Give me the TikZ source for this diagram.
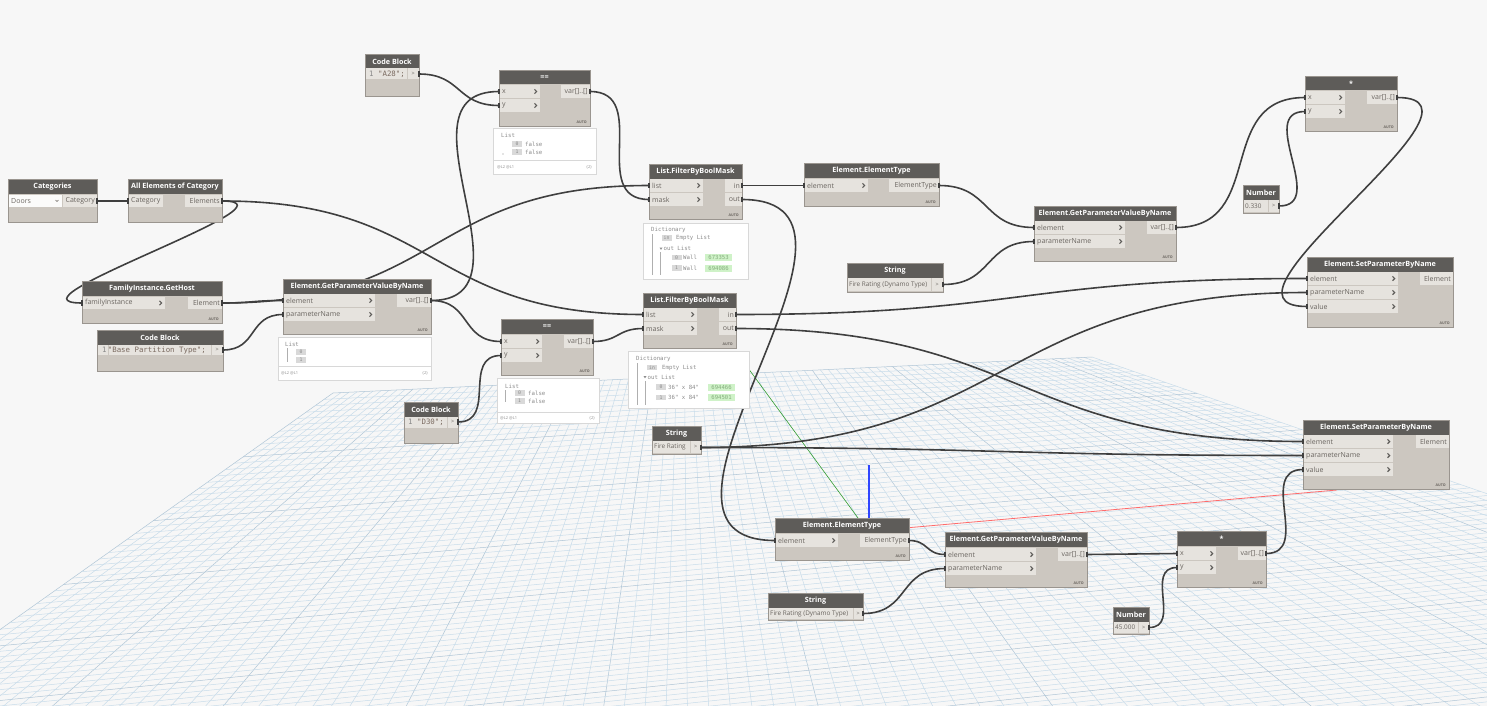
\documentclass[tikz,border=0pt]{standalone}
\usepackage{fontspec}
\setmainfont{Open Sans}
\newfontfamily\monof{DejaVu Sans Mono}
\usetikzlibrary{calc,fit}
\pgfdeclarelayer{bg}\pgfdeclarelayer{wires}\pgfdeclarelayer{fg}
\pgfsetlayers{bg,wires,main,fg}
\definecolor{bgc}{HTML}{F7F7F7}
\definecolor{hdr}{HTML}{5E5C59}
\definecolor{bodyc}{HTML}{CCC7C0}
\definecolor{rowc}{HTML}{E6E3DE}
\definecolor{linec}{HTML}{9A958F}
\definecolor{labc}{HTML}{6A6560}
\definecolor{wirec}{HTML}{3F3F3F}
\definecolor{gridc}{HTML}{C8DCEA}
\definecolor{gridd}{HTML}{AFC5D6}
\definecolor{prevline}{HTML}{D8D8D8}
\definecolor{ptxt}{HTML}{8C8C8C}
\definecolor{chipc}{HTML}{D9D9D9}
\definecolor{greenc}{HTML}{CFF2C8}
\definecolor{greent}{HTML}{86AE7E}
\definecolor{codec}{HTML}{7A6A60}
\definecolor{numc}{HTML}{8A8A8A}
\definecolor{axg}{HTML}{2E9A2E}
\definecolor{axr}{HTML}{FF6B6B}
\definecolor{axb}{HTML}{2F45FF}
\tikzset{
 dtitle/.style={text=white, font=\bfseries\fontsize{7.2}{8}\selectfont, inner sep=0pt},
 plab/.style={text=labc, font=\fontsize{7}{8}\selectfont, inner sep=0pt},
 fld/.style={text=labc, font=\fontsize{6.4}{7}\selectfont, inner sep=0pt},
 autot/.style={text=labc, font=\bfseries\fontsize{3.6}{4}\selectfont, inner sep=0pt},
 codet/.style={text=codec, font=\monof\fontsize{7.4}{8}\selectfont, inner sep=0pt},
 wire/.style={draw=wirec, line width=1.6pt},
 pin/.style={fill=wirec},
 chev/.style={draw=hdr, line width=1.1pt},
 dbody/.style={fill=bodyc, draw=linec, line width=0.6pt, inner sep=0pt},
 prevbox/.style={fill=white, draw=prevline, line width=0.8pt, inner sep=0pt},
 ptx/.style={text=ptxt, font=\monof\fontsize{5.7}{6}\selectfont, inner sep=0pt},
 chip/.style={fill=chipc, text=ptxt, font=\monof\fontsize{4.8}{5}\selectfont, inner sep=0pt, minimum width=10pt, minimum height=5.5pt},
 gchip/.style={fill=greenc, text=greent, font=\monof\fontsize{5.6}{6}\selectfont, inner sep=0pt, minimum width=27pt, minimum height=7pt},
 ftx/.style={text=ptxt, font=\fontsize{4}{5}\selectfont, inner sep=0pt},
 treel/.style={draw=ptxt!70, line width=0.5pt},
 gridl/.style={draw=gridc, line width=0.5pt},
 gridm/.style={draw=gridd, line width=0.5pt},
}
\newcommand{\dnode}[6]{%
  \node[dbody, fit={(#2,#3)(#4,#5)}] (#1) {};
  \fill[hdr] (#2,#3) rectangle (#4,{#3+14.5});
  \node[dtitle] (#1-t) at ({(#2+#4)/2},{#3+7.5}) {#6};
  \draw[linec, line width=0.6pt] (#2,#3) rectangle (#4,#5);}
\newcommand{\inrow}[5]{%
  \fill[rowc] ({#1+0.5},#2) rectangle (#3,#4);
  \node[plab, anchor=west] at ({#1+3},{(#2+#4)/2}) {#5};
  \draw[chev] ({#3-5.5},{(#2+#4)/2-2.2}) -- ({#3-3.3},{(#2+#4)/2}) -- ({#3-5.5},{(#2+#4)/2+2.2});}
\newcommand{\inrowb}[5]{%
  \fill[rowc] ({#1+0.5},#2) rectangle (#3,#4);
  \node[plab, anchor=west] at ({#1+3},{(#2+#4)/2}) {#5};}
\newcommand{\outrow}[5]{%
  \fill[rowc] (#1,#2) rectangle ({#3-0.5},#4);
  \node[plab, anchor=east] at ({#3-2},{(#2+#4)/2}) {#5};}
\newcommand{\gtport}[4]{%
  \fill[rowc] (#1,#2) rectangle (#3,#4);
  \node[plab, font=\fontsize{5.5}{6}\selectfont] at ({(#1+#3)/2},{(#2+#4)/2}) {>};}
\newcommand{\autol}[2]{\node[autot, anchor=south east] at (#1,#2) {AUTO};}
\newcommand{\dwire}[2]{%
  \begin{pgfonlayer}{wires}
  \draw[wire] let \p1=($(#2)-(#1)$), \n1={max(0.5*veclen(\x1,\y1),15)} in
     (#1) .. controls +(\n1,0) and +(-\n1,0) .. (#2);
  \end{pgfonlayer}
  \begin{pgfonlayer}{fg}
  \fill[pin] ($(#1)+(-1.2,-2.6)$) rectangle ($(#1)+(1.2,2.6)$);
  \fill[pin] ($(#2)+(-1.2,-2.6)$) rectangle ($(#2)+(1.2,2.6)$);
  \end{pgfonlayer}}
\begin{document}
\begin{tikzpicture}[x=1pt,y=-1pt]
\useasboundingbox (0,0) rectangle (1487,706);
% ---------- background and perspective grid
\begin{pgfonlayer}{bg}
\fill[bgc] (0,0) rectangle (1487,706);
\begin{scope}
\clip (0,0) rectangle (1487,706);
\foreach \i in {0,...,95}{
  \pgfmathsetmacro\u{\i/95}
  \pgfmathsetmacro\ax{333+\u*(1092-333)}\pgfmathsetmacro\ay{393+\u*(357-393)}
  \pgfmathsetmacro\bx{-700+\u*(2300+700)}\pgfmathsetmacro\by{1127+\u*(775-1127)}
  \pgfmathtruncatemacro\m{mod(\i,10)}
  \ifnum\m=0 \draw[gridm] (\ax,\ay) -- (\bx,\by); \else \draw[gridl] (\ax,\ay) -- (\bx,\by); \fi
}
\foreach \i in {0,...,115}{
  \pgfmathsetmacro\v{\i/115}
  \pgfmathsetmacro\ax{333+\v*(-700-333)}\pgfmathsetmacro\ay{393+\v*(1127-393)}
  \pgfmathsetmacro\bx{1092+\v*(2300-1092)}\pgfmathsetmacro\by{357+\v*(775-357)}
  \pgfmathtruncatemacro\m{mod(\i,10)}
  \ifnum\m=0 \draw[gridm] (\ax,\ay) -- (\bx,\by); \else \draw[gridl] (\ax,\ay) -- (\bx,\by); \fi
}
\draw[axg, line width=0.6pt] (748,368) -- (858,518);
\draw[axr, line width=0.8pt] (905,528) -- (1337,490);
\fill[axb] (868.4,465) rectangle (869.8,518);
\end{scope}
\end{pgfonlayer}
% ---------- preview boxes
\node[prevbox, fit={(278,337)(431,380)}] (pv-gp1) {};
\draw[prevline] (278,366) -- (431,366);
\node[ptx, anchor=west] at (285,344) {List};
\draw[treel] (287,348) -- (287,362);
\node[chip] at (301,352) {0};
\node[chip] at (301,360) {1};
\node[ftx, anchor=west] at (281,373) {@L2 @L1};
\node[ftx, anchor=east] at (428,373) {\{2\}};

\node[prevbox, fit={(493,128)(596,174)}] (pv-eq1) {};
\draw[prevline] (493,160) -- (596,160);
\node[ptx, anchor=west] at (501,135) {List};
\node[chip] at (517,144) {0}; \node[ptx, anchor=west] at (525,144) {false};
\node[chip] at (517,152) {1}; \node[ptx, anchor=west] at (525,152) {false};
\fill[ptxt] (503,154) circle (0.6);
\node[ftx, anchor=west] at (497,167) {@L2 @L1};
\node[ftx, anchor=east] at (592,167) {\{2\}};

\node[prevbox, fit={(497,378)(599,423)}] (pv-eq2) {};
\draw[prevline] (497,412) -- (599,412);
\node[ptx, anchor=west] at (505,386) {List};
\draw[treel] (505,390) -- (505,402);
\node[chip] at (519.5,393) {0}; \node[ptx, anchor=west] at (528,393) {false};
\node[chip] at (519.5,401) {1}; \node[ptx, anchor=west] at (528,401) {false};
\node[ftx, anchor=west] at (500,418) {@L2 @L1};
\node[ftx, anchor=east] at (595,418) {\{2\}};

\node[prevbox, fit={(643,223)(748,279)}] (pv-f1) {};
\node[ptx, anchor=west] at (651,230) {Dictionary};
\draw[treel] (652,234) -- (652,275);
\node[chip] at (666.5,238) {in}; \node[ptx, anchor=west] at (676,238) {Empty List};
\fill[ptxt] (659.5,247.5) -- (662.5,247.5) -- (661,249.8) -- cycle;
\node[ptx, anchor=west] at (663.5,248.5) {out List};
\draw[treel] (660,252) -- (660,275);
\node[chip] at (676.5,257.5) {0}; \node[ptx, anchor=west] at (683,257.5) {Wall}; \node[gchip] at (718.5,257.5) {673353};
\node[chip] at (676.5,268) {1}; \node[ptx, anchor=west] at (683,268) {Wall}; \node[gchip] at (718.5,268) {694086};

\node[prevbox, fit={(628,351)(749,408)}] (pv-f2) {};
\node[ptx, anchor=west] at (636,359) {Dictionary};
\draw[treel] (637,363) -- (637,405);
\node[chip] at (652,367.5) {in}; \node[ptx, anchor=west] at (662,367.5) {Empty List};
\fill[ptxt] (643.5,376) -- (646.5,376) -- (645,378.3) -- cycle;
\node[ptx, anchor=west] at (647.5,377) {out List};
\draw[treel] (645,381) -- (645,405);
\node[chip] at (661,387) {0}; \node[ptx, anchor=west] at (668,387) {36" x 84"}; \node[gchip] at (721.5,387) {694466};
\node[chip] at (661,397.5) {1}; \node[ptx, anchor=west] at (668,397.5) {36" x 84"}; \node[gchip] at (721.5,397.5) {694501};
% ---------- nodes
\dnode{cat}{8}{179}{97}{222}{Categories}
\fill[white!85!rowc] (9,195) rectangle (62,207);
\node[plab, anchor=west] (cat-v) at (11,201) {Doors};
\draw[labc, line width=0.4pt] (55.5,200) -- (57,201.5) -- (58.5,200);
\outrow{63}{195}{97}{207}{Category}
\coordinate (cat-out) at (97,201);

\dnode{ae}{128}{179}{222}{222}{All Elements of Category}
\inrowb{128}{195}{163}{207}{Category}
\outrow{185}{195}{222}{207}{Elements}
\coordinate (ae-in) at (128,201); \coordinate (ae-out) at (222,201);

\dnode{gh}{82}{281}{222}{323}{FamilyInstance.GetHost}
\inrow{82}{297}{165}{309}{familyInstance}
\outrow{188}{297}{222}{309}{Element}
\autol{219}{321}
\coordinate (gh-in) at (82,303); \coordinate (gh-out) at (222,303);

\dnode{cb1}{97}{330}{223}{371}{Code Block}
\fill[rowc] (98,345) rectangle (211,355);
\draw[bodyc, line width=0.6pt] (108,345) -- (108,355);
\node[codet, anchor=west] (cb1-c) at (102,350) {\textcolor{numc}{1}\hspace{1.2pt}"Base Partition Type";};
\gtport{212}{345}{222.5}{355}
\coordinate (cb1-out) at (223,350);

\dnode{gp1}{283}{279}{431}{334}{Element.GetParameterValueByName}
\inrow{283}{294}{375}{307}{element}
\inrow{283}{308}{375}{321}{parameterName}
\outrow{397}{294}{431}{307}{var[]..[]}
\autol{428}{332}
\coordinate (gp1-el) at (283,300.5); \coordinate (gp1-pn) at (283,314.5); \coordinate (gp1-out) at (431,300.5);

\dnode{cba}{365}{54}{419}{96}{Code Block}
\fill[rowc] (366,68.5) rectangle (407,79);
\node[codet, anchor=west] (cba-c) at (369,74) {\textcolor{numc}{1} "A28";};
\gtport{408}{68.5}{418.5}{79}
\coordinate (cba-out) at (419,74);

\dnode{eq1}{499}{70}{590}{126}{==}
\inrow{499}{85}{540}{98}{x}
\inrow{499}{99}{540}{112}{y}
\outrow{561}{85}{590}{98}{var[]..[]}
\autol{587}{124}
\coordinate (eq1-x) at (499,91.5); \coordinate (eq1-y) at (499,105.5); \coordinate (eq1-out) at (590,91.5);

\dnode{f1}{649}{164}{742}{219}{List.FilterByBoolMask}
\inrow{649}{179}{703}{192}{list}
\inrow{649}{193}{703}{206}{mask}
\outrow{725}{179}{742}{192}{in}
\outrow{725}{193}{742}{206}{out}
\autol{739}{217}
\coordinate (f1-list) at (649,185.5); \coordinate (f1-mask) at (649,199.5);
\coordinate (f1-in) at (742,185.5); \coordinate (f1-out) at (742,199.5);

\dnode{f2}{643}{293}{736}{348}{List.FilterByBoolMask}
\inrow{643}{308}{697}{321}{list}
\inrow{643}{322}{697}{335}{mask}
\outrow{719}{308}{736}{321}{in}
\outrow{719}{322}{736}{335}{out}
\autol{733}{346}
\coordinate (f2-list) at (643,314.5); \coordinate (f2-mask) at (643,328.5);
\coordinate (f2-in) at (736,314.5); \coordinate (f2-out) at (736,328.5);

\dnode{et1}{804}{163}{939}{206}{Element.ElementType}
\inrow{804}{179}{868}{192}{element}
\outrow{889}{179}{939}{192}{ElementType}
\autol{936}{204}
\coordinate (et1-in) at (804,185.5); \coordinate (et1-out) at (939,185.5);

\dnode{s1}{847}{263}{943}{292}{String}
\fill[rowc] (848,278) rectangle (931,291);
\node[fld, anchor=west] (s1-f) at (849,284.5) {Fire Rating (Dynamo Type)};
\gtport{932}{278}{942.5}{291}
\coordinate (s1-out) at (943,284.5);

\dnode{gp2}{1034}{206}{1176}{261}{Element.GetParameterValueByName}
\inrow{1034}{221}{1125}{234}{element}
\inrow{1034}{235}{1125}{248}{parameterName}
\outrow{1147}{221}{1176}{234}{var[]..[]}
\autol{1173}{259}
\coordinate (gp2-el) at (1034,227.5); \coordinate (gp2-pn) at (1034,241.5); \coordinate (gp2-out) at (1176,227.5);

\dnode{m1}{1305}{76}{1397}{131}{*}
\inrow{1305}{91}{1345}{104}{x}
\inrow{1305}{105}{1345}{118}{y}
\outrow{1367}{91}{1397}{104}{var[]..[]}
\autol{1394}{129}
\coordinate (m1-x) at (1305,97.5); \coordinate (m1-y) at (1305,111.5); \coordinate (m1-out) at (1397,97.5);

\dnode{n1}{1243}{185}{1279}{213}{Number}
\fill[rowc] (1244,200) rectangle (1268,212);
\node[fld, anchor=west] (n1-f) at (1245,206) {0.330};
\gtport{1269}{200}{1278.5}{212}
\coordinate (n1-out) at (1279,206);

\dnode{sp1}{1307}{257}{1453}{327}{Element.SetParameterByName}
\inrow{1307}{272}{1398}{285}{element}
\inrow{1307}{286}{1398}{299}{parameterName}
\inrow{1307}{300}{1398}{313}{value}
\outrow{1420}{272}{1453}{285}{Element}
\autol{1450}{325}
\coordinate (sp1-el) at (1307,278.5); \coordinate (sp1-pn) at (1307,292.5); \coordinate (sp1-val) at (1307,306.5);

\dnode{cbd}{404}{402}{458}{443}{Code Block}
\fill[rowc] (405,417) rectangle (447,427.5);
\node[codet, anchor=west] (cbd-c) at (408,422) {\textcolor{numc}{1} "D30";};
\gtport{448}{417}{457.5}{427.5}
\coordinate (cbd-out) at (458,422);

\dnode{eq2}{501}{319}{593}{375}{==}
\inrow{501}{335}{542}{348}{x}
\inrow{501}{349}{542}{362}{y}
\outrow{564}{335}{593}{348}{var[]..[]}
\autol{590}{373}
\coordinate (eq2-x) at (501,341.5); \coordinate (eq2-y) at (501,355.5); \coordinate (eq2-out) at (593,341.5);

\dnode{s2}{652}{426}{701}{454}{String}
\fill[rowc] (653,441) rectangle (690,453);
\node[fld, anchor=west] (s2-f) at (654,447) {Fire Rating};
\gtport{691}{441}{700.5}{453}
\coordinate (s2-out) at (701,447.5);

\dnode{sp2}{1303}{420}{1449}{489}{Element.SetParameterByName}
\inrow{1303}{435}{1393}{448}{element}
\inrow{1303}{449}{1393}{462}{parameterName}
\inrow{1303}{463}{1393}{476}{value}
\outrow{1416}{435}{1449}{448}{Element}
\autol{1446}{487}
\coordinate (sp2-el) at (1303,441.5); \coordinate (sp2-pn) at (1303,455.5); \coordinate (sp2-val) at (1303,469.5);

\dnode{m2}{1177}{531}{1266}{587}{*}
\inrow{1177}{547}{1216}{560}{x}
\inrow{1177}{561}{1216}{574}{y}
\outrow{1238}{547}{1266}{560}{var[]..[]}
\autol{1263}{585}
\coordinate (m2-x) at (1177,553.5); \coordinate (m2-y) at (1177,567.5); \coordinate (m2-out) at (1266,553.5);

\dnode{n2}{1113}{607}{1149}{634}{Number}
\fill[rowc] (1114,622) rectangle (1138,633);
\node[fld, anchor=west] (n2-f) at (1115,627.5) {45.000};
\gtport{1139}{622}{1148.5}{633}
\coordinate (n2-out) at (1149,627.5);

\dnode{et2}{775}{518}{909}{560}{Element.ElementType}
\inrow{775}{534}{838}{547}{element}
\outrow{860}{534}{909}{547}{ElementType}
\autol{906}{558}
\coordinate (et2-in) at (775,540.5); \coordinate (et2-out) at (909,540.5);

\dnode{gp3}{945}{532}{1087}{587}{Element.GetParameterValueByName}
\inrow{945}{548}{1036}{561}{element}
\inrow{945}{562}{1036}{575}{parameterName}
\outrow{1058}{548}{1087}{561}{var[]..[]}
\autol{1084}{585}
\coordinate (gp3-el) at (945,554.5); \coordinate (gp3-pn) at (945,568.5); \coordinate (gp3-out) at (1087,554.5);

\dnode{s3}{768}{593}{863}{620}{String}
\fill[rowc] (769,608) rectangle (853,619);
\node[fld, anchor=west] (s3-f) at (770,613.5) {Fire Rating (Dynamo Type)};
\gtport{854}{608}{862.5}{619}
\coordinate (s3-out) at (863,613.5);
% ---------- wires
\dwire{cat-out}{ae-in}
\dwire{ae-out}{gh-in}
\dwire{ae-out}{f2-list}
\dwire{gh-out}{gp1-el}
\dwire{gh-out}{f1-list}
\dwire{cb1-out}{gp1-pn}
\dwire{gp1-out}{eq1-x}
\dwire{gp1-out}{eq2-x}
\dwire{cba-out}{eq1-y}
\dwire{cbd-out}{eq2-y}
\dwire{eq1-out}{f1-mask}
\dwire{eq2-out}{f2-mask}
\dwire{f1-in}{et1-in}
\dwire{f1-out}{et2-in}
\dwire{et1-out}{gp2-el}
\dwire{s1-out}{gp2-pn}
\dwire{gp2-out}{m1-x}
\dwire{n1-out}{m1-y}
\dwire{m1-out}{sp1-val}
\dwire{f2-in}{sp1-el}
\dwire{s2-out}{sp1-pn}
\dwire{s2-out}{sp2-pn}
\dwire{f2-out}{sp2-el}
\dwire{et2-out}{gp3-el}
\dwire{s3-out}{gp3-pn}
\dwire{gp3-out}{m2-x}
\dwire{n2-out}{m2-y}
\dwire{m2-out}{sp2-val}
\end{tikzpicture}
\end{document}
